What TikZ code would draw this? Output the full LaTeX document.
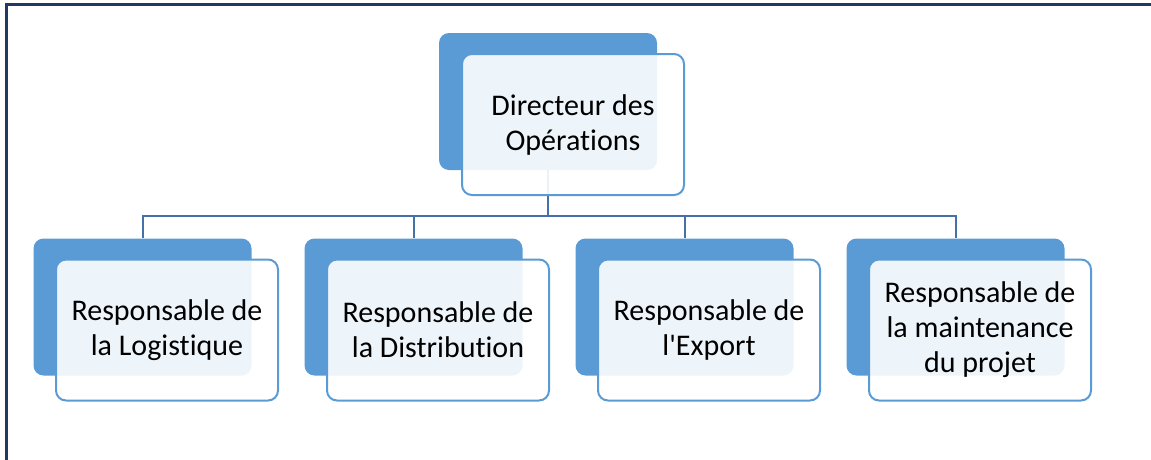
\documentclass[tikz,border=0pt]{standalone}
\usepackage{fontspec}
\setmainfont{Carlito}[Ligatures={NoCommon}]
\definecolor{dk}{HTML}{5B9BD5}
\definecolor{cn}{HTML}{4472A8}
\definecolor{framec}{HTML}{1F3864}
\begin{document}
\begin{tikzpicture}[x=1pt,y=-1pt,
  back/.style={rectangle, rounded corners=10pt, fill=dk, draw=none, minimum width=218pt, minimum height=137pt, inner sep=0pt},
  front/.style={rectangle, rounded corners=10pt, fill=white, fill opacity=0.9, text opacity=1, draw=dk, line width=2pt, minimum width=222pt, minimum height=141pt, align=center, font=\fontsize{30}{35}\selectfont, inner sep=0pt},
  conn/.style={draw=cn, line width=2pt}]
\useasboundingbox (0,0) rectangle (1151,459);
\draw[framec, line width=3pt] (6,462) -- (6,4) -- (1154,4);
% back boxes
\node[back] (dtop) at (548,101.5) {};
\node[back] (d1) at (142.5,307) {};
\node[back] (d2) at (413.5,307) {};
\node[back] (d3) at (684.5,307) {};
\node[back] (d4) at (955.5,307) {};
% connectors
\coordinate (bus) at (548,216);
\draw[conn] (dtop.south) -- (bus);
\draw[conn] (bus) -| (d1.north);
\draw[conn] (bus) -| (d2.north);
\draw[conn] (bus) -| (d3.north);
\draw[conn] (bus) -| (d4.north);
% front boxes
\node[front] (ftop) at (573,124.5) {Directeur des\\Opérations};
\node[front] (f1) at (167,330) {Responsable de\\la Logistique};
\node[front] (f2) at (438,330) {Responsable de\\la Distribution};
\node[front] (f3) at (709,330) {Responsable de\\l\textquotesingle Export};
\node[front] (f4) at (980,330) {Responsable de\\la maintenance\\du projet};
\end{tikzpicture}
\end{document}
